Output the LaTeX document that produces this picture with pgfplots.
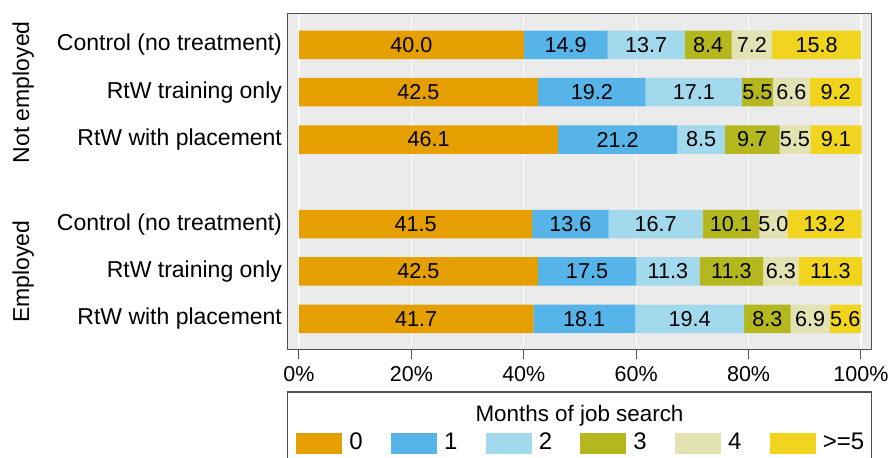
\documentclass[border=0pt]{standalone}
\usepackage{fontspec}
\setmainfont{Liberation Sans}
\usepackage{pgfplots}
\usepackage{pgfplotstable}
\pgfplotsset{compat=1.18}
\definecolor{c0}{RGB}{230,159,0}
\definecolor{c1}{RGB}{86,180,233}
\definecolor{c2}{RGB}{163,217,237}
\definecolor{c3}{RGB}{180,184,30}
\definecolor{c4}{RGB}{226,226,178}
\definecolor{c5}{RGB}{240,212,30}
\definecolor{bg}{RGB}{235,235,235}
\definecolor{frame}{RGB}{80,80,80}

\pgfplotstableread{
pos a b c d e f
0 40.0 14.9 13.7 8.4 7.2 15.8
1 42.5 19.2 17.1 5.5 6.6 9.2
2 46.1 21.2 8.5 9.7 5.5 9.1
3.79 41.5 13.6 16.7 10.1 5.0 13.2
4.79 42.5 17.5 11.3 11.3 6.3 11.3
5.79 41.7 18.1 19.4 8.3 6.9 5.6
}\datatable

\pgfplotsset{
  lbl/.style={
    point meta=rawx,
    nodes near coords={\pgfmathprintnumber[fixed,fixed zerofill,precision=1,assume math mode=true]{\pgfplotspointmeta}},
    every node near coord/.style={anchor=center, text=black, inner sep=0pt, font=\fontsize{10.8}{13}\selectfont}
  }
}

\begin{document}
\fontsize{11.5}{14}\selectfont
\begin{tikzpicture}
\begin{axis}[
  x=2.81pt, y=23.65pt, y dir=reverse,
  xmin=-2.08, xmax=101.9, ymin=-0.67, ymax=6.44,
  xbar stacked, bar width=14.25pt,
  clip=false,
  axis background/.style={fill=bg},
  axis line style={frame, line width=0.7pt},
  xmajorgrids, grid style={white, line width=0.6pt},
  xtick={0,20,40,60,80,100},
  xticklabels={0\%,20\%,40\%,60\%,80\%,100\%},
  tick align=outside,
  xtick pos=left,
  major tick length=4.5pt,
  xtick style={draw=frame, line width=0.5pt},
  ytick={0,1,2,3.79,4.79,5.79},
  yticklabels={Control (no treatment),RtW training only,RtW with placement,Control (no treatment),RtW training only,RtW with placement},
  ytick style={draw=none},
  yticklabel style={xshift=5.85pt, font=\fontsize{11.5}{14}\selectfont},
  xticklabel style={yshift=0pt, font=\fontsize{10.75}{13}\selectfont},
  /pgf/number format/assume math mode=true,
  legend columns=6,
  legend cell align=left,
  legend style={draw=none, fill=none, at={(axis description cs:0.0149,-0.278)}, anchor=west,
    column sep=0pt, inner sep=0pt, nodes={inner sep=0pt}, font=\fontsize{12}{14}\selectfont},
  legend image code/.code={\fill[#1] (0pt,-5.25pt) rectangle (23pt,5.25pt);},
]
\addplot[fill=c0, draw=none, lbl] table[x=a, y=pos] {\datatable};
\addplot[fill=c1, draw=none, lbl] table[x=b, y=pos] {\datatable};
\addplot[fill=c2, draw=none, lbl] table[x=c, y=pos] {\datatable};
\addplot[fill=c3, draw=none, lbl] table[x=d, y=pos] {\datatable};
\addplot[fill=c4, draw=none, lbl] table[x=e, y=pos] {\datatable};
\addplot[fill=c5, draw=none, lbl] table[x=f, y=pos] {\datatable};
\addlegendentry{\hspace*{3.5pt}\makebox[20.85pt][l]{0}}
\addlegendentry{\hspace*{3.5pt}\makebox[20.85pt][l]{1}}
\addlegendentry{\hspace*{3.5pt}\makebox[20.85pt][l]{2}}
\addlegendentry{\hspace*{3.5pt}\makebox[20.85pt][l]{3}}
\addlegendentry{\hspace*{3.5pt}\makebox[20.85pt][l]{4}}
\addlegendentry{\hspace*{3.5pt}\makebox[20.85pt][l]{>=5}}
\draw[frame, line width=0.7pt] (axis description cs:0,-0.126) rectangle (axis description cs:1,-0.45);
\node[anchor=base, font=\fontsize{11.2}{13}\selectfont] at (axis description cs:0.5,-0.2145) {Months of job search};
\node[rotate=90] at (axis description cs:-0.452,0.765) {Not employed};
\node[rotate=90] at (axis description cs:-0.452,0.231) {Employed};
\coordinate (SW) at (axis description cs:0,0);
\end{axis}
\pgfresetboundingbox
\path[use as bounding box] ([xshift=-143.65pt,yshift=-53.75pt]SW) rectangle ([xshift=300.85pt,yshift=174.75pt]SW);
\end{tikzpicture}
\end{document}
